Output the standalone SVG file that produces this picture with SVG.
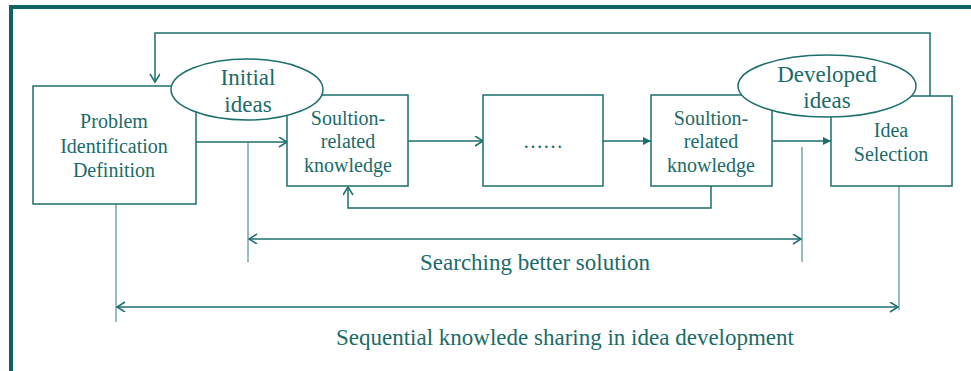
<svg xmlns="http://www.w3.org/2000/svg" width="971" height="371" viewBox="0 0 971 371">
<style>
.box{fill:#fff;stroke:#1b6f6c;stroke-width:1.5}
.ell{fill:#fff;stroke:#1b6f6c;stroke-width:1.5}
.t{font-family:"Liberation Serif","Times New Roman",serif;fill:#1b6b67;text-anchor:middle}
.t20{font-size:20px}
.t23{font-size:23px}
.ln{fill:none;stroke:#1b6f6c;stroke-width:1.5}
.tick{fill:none;stroke:#2a7f7c;stroke-width:1}
</style>
<defs>
<marker id="open" markerUnits="userSpaceOnUse" markerWidth="12" markerHeight="12" refX="9" refY="5" orient="auto-start-reverse" viewBox="0 0 12 12">
<path d="M1,0 L9,5 L1,10" fill="none" stroke="#1b6f6c" stroke-width="1.5"/>
</marker>
<marker id="fill" markerUnits="userSpaceOnUse" markerWidth="10" markerHeight="10" refX="8" refY="4" orient="auto" viewBox="0 0 10 10">
<path d="M0,0 L8,4 L0,8 z" fill="#1b6f6c"/>
</marker>
</defs>
<rect x="0" y="0" width="971" height="371" fill="#fff"/>
<g id="frame">
<rect x="9" y="5" width="962" height="4" fill="#0d6363"/>
<rect x="9" y="5" width="4" height="366" fill="#0d6363"/>
</g>
<g id="connectors">
<polyline class="ln" points="930,96 930,33 155,33 155,82" marker-end="url(#open)"/>
<line class="ln" x1="196" y1="142" x2="287" y2="142" marker-end="url(#open)"/>
<line class="ln" x1="408" y1="141" x2="483" y2="141" marker-end="url(#open)"/>
<line class="ln" x1="603" y1="141" x2="651" y2="141" marker-end="url(#fill)"/>
<line class="ln" x1="772" y1="141" x2="831" y2="141" marker-end="url(#fill)"/>
<polyline class="ln" points="711,186 711,208 348,208 348,187" marker-end="url(#open)"/>
<line class="tick" x1="248" y1="143" x2="248" y2="262"/>
<line class="tick" x1="802" y1="147" x2="802" y2="262"/>
<line class="ln" x1="249" y1="239" x2="801" y2="239" marker-start="url(#open)" marker-end="url(#open)"/>
<line class="tick" x1="116" y1="204" x2="116" y2="322"/>
<line class="tick" x1="899" y1="186" x2="899" y2="310"/>
<line class="ln" x1="117" y1="307" x2="898" y2="307" marker-start="url(#open)" marker-end="url(#open)"/>
</g>
<g id="problem">
<rect class="box" x="33" y="86" width="163" height="118"/>
<text class="t t20" x="114" y="128">Problem</text>
<text class="t t20" x="114" y="153">Identification</text>
<text class="t t20" x="114" y="177">Definition</text>
</g>
<g id="knowledge1">
<rect class="box" x="287" y="95" width="121" height="91"/>
<text class="t t20" x="348" y="125">Soultion-</text>
<text class="t t20" x="348" y="148">related</text>
<text class="t t20" x="348" y="172">knowledge</text>
</g>
<g id="dots">
<rect class="box" x="483" y="95" width="120" height="91"/>
<text class="t t20" x="543" y="148">……</text>
</g>
<g id="knowledge2">
<rect class="box" x="651" y="95" width="121" height="91"/>
<text class="t t20" x="711" y="125">Soultion-</text>
<text class="t t20" x="711" y="148">related</text>
<text class="t t20" x="711" y="172">knowledge</text>
</g>
<g id="selection">
<rect class="box" x="831" y="96" width="121" height="90"/>
<text class="t t20" x="891" y="137">Idea</text>
<text class="t t20" x="891" y="161">Selection</text>
</g>
<g id="initial">
<ellipse class="ell" cx="247" cy="89.5" rx="76" ry="30.5"/>
<text class="t t23" x="248" y="85">Initial</text>
<text class="t t23" x="248" y="112">ideas</text>
</g>
<g id="developed">
<ellipse class="ell" cx="827" cy="86" rx="89" ry="31"/>
<text class="t t23" x="827" y="82">Developed</text>
<text class="t t23" x="827" y="108">ideas</text>
</g>
<g id="labels">
<text class="t t23" x="535" y="270">Searching better solution</text>
<text class="t t23" x="565" y="345">Sequential knowlede sharing in idea development</text>
</g>
</svg>
